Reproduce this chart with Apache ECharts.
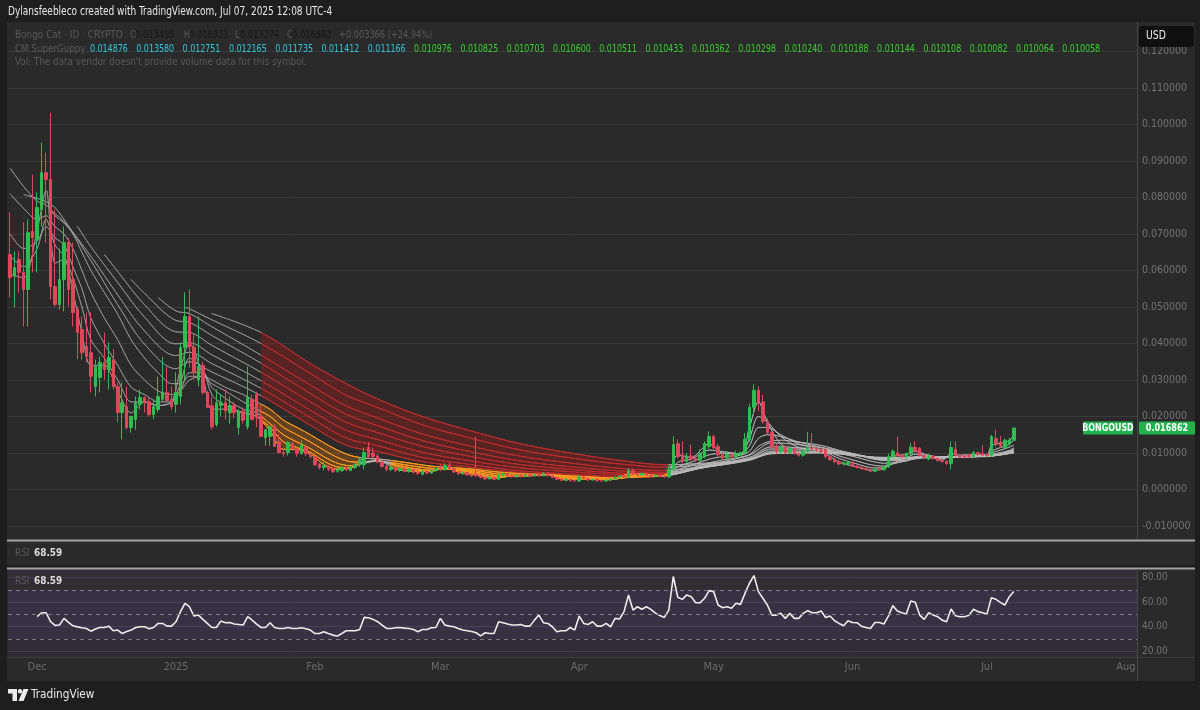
<!DOCTYPE html>
<html>
<head>
<meta charset="utf-8">
<script src="https://cdn.jsdelivr.net/npm/echarts/dist/echarts.min.js"></script>
<style>
html,body{margin:0;padding:0;background:#1e1e1e;overflow:hidden;}
#panel{position:absolute;left:7px;top:22px;width:1188px;height:659px;background:#2a2a2a;}
#rsipane{position:absolute;left:8px;top:570px;width:1129px;height:87px;background:rgba(126,87,194,0.07);}
#chart{position:absolute;left:0;top:0;width:1200px;height:710px;}
</style>
</head>
<body>
<div id="panel"></div>
<div id="rsipane"></div>
<div id="chart"></div>
<script>
// ---------------- DATA ----------------
const startDate = [2024, 10, 25];         // first candle: 2024-11-25 (daily bars)
const axisDays = 252;                      // axis runs to 2025-08-03
const monthNames = ['Jan','Feb','Mar','Apr','May','Jun','Jul','Aug','Sep','Oct','Nov','Dec'];

const opens = [
.0644,.0584,.0630,.0595,.0548,.0707,.0685,.0767,.0868,.0849,
.0556,.0507,.0575,.0677,.0575,.0493,.0438,.0392,.0375,.0282,
.0307,.0348,.0329,.0356,.0282,.0211,.0227,.0170,.0192,.0233,
.0252,.0241,.0205,.0219,.0247,.0266,.0247,.0233,.0255,.0389,
.0474,.0390,.0300,.0340,.0266,.0230,.0178,.0230,.0238,.0210,
.0230,.0170,.0215,.0172,.0247,.0260,.0200,.0142,.0145,.0172,
.0131,.0101,.0101,.0125,.0110,.0099,.0115,.0098,.0090,.0070,
.0060,.0065,.0058,.0050,.0052,.0060,.0052,.0060,.0068,.0068,
.0115,.0100,.0092,.0075,.0063,.0055,.0060,.0052,.0057,.0050,
.0055,.0047,.0042,.0050,.0045,.0052,.0057,.0055,.0066,.0057,
.0048,.0043,.0046,.0040,.0042,.0038,.0033,.0029,.0033,.0028,
.0040,.0042,.0038,.0035,.0039,.0036,.0040,.0037,.0041,.0038,
.0044,.0038,.0033,.0028,.0025,.0028,.0024,.0023,.0034,.0030,
.0026,.0028,.0024,.0023,.0026,.0029,.0033,.0037,.0034,.0052,
.0044,.0040,.0044,.0039,.0036,.0040,.0036,.0034,.0055,.0126,
.0095,.0077,.0092,.0085,.0080,.0090,.0118,.0145,.0118,.0095,
.0086,.0096,.0089,.0094,.0101,.0137,.0225,.0272,.0240,.0186,
.0156,.0118,.0104,.0115,.0101,.0112,.0098,.0094,.0105,.0115,
.0112,.0108,.0110,.0090,.0082,.0076,.0070,.0070,.0075,.0064,
.0061,.0057,.0055,.0050,.0058,.0054,.0062,.0090,.0100,.0095,
.0089,.0098,.0115,.0114,.0094,.0083,.0092,.0085,.0080,.0077,
.0071,.0110,.0094,.0092,.0095,.0090,.0101,.0098,.0096,.0093,
.0140,.0130,.0115,.0125,.013495];
const highs = [
.0759,.0652,.0652,.0732,.0740,.0863,.0814,.0951,.0923,.1033,
.0767,.0660,.0721,.0690,.0677,.0501,.0474,.0485,.0485,.0356,
.0364,.0430,.0403,.0384,.0293,.0293,.0282,.0200,.0255,.0274,
.0255,.0252,.0247,.0310,.0364,.0337,.0282,.0321,.0403,.0540,
.0548,.0425,.0474,.0350,.0270,.0255,.0274,.0260,.0274,.0255,
.0240,.0220,.0225,.0337,.0260,.0268,.0230,.0165,.0175,.0180,
.0150,.0110,.0132,.0130,.0115,.0135,.0120,.0100,.0093,.0072,
.0075,.0068,.0062,.0062,.0065,.0063,.0065,.0072,.0088,.0115,
.0130,.0115,.0098,.0080,.0068,.0065,.0062,.0060,.0060,.0058,
.0057,.0052,.0055,.0052,.0055,.0060,.0070,.0072,.0075,.0060,
.0052,.0050,.0048,.0044,.0145,.0041,.0036,.0036,.0035,.0045,
.0046,.0044,.0041,.0042,.0041,.0043,.0042,.0045,.0043,.0048,
.0046,.0040,.0035,.0031,.0030,.0029,.0027,.0040,.0036,.0032,
.0030,.0029,.0027,.0028,.0031,.0036,.0040,.0040,.0058,.0057,
.0048,.0047,.0046,.0042,.0042,.0041,.0039,.0068,.0145,.0137,
.0132,.0100,.0123,.0095,.0110,.0132,.0159,.0150,.0125,.0100,
.0105,.0100,.0106,.0104,.0155,.0235,.0288,.0282,.0260,.0195,
.0160,.0125,.0120,.0118,.0118,.0115,.0102,.0110,.0158,.0155,
.0115,.0112,.0112,.0093,.0086,.0080,.0076,.0078,.0077,.0066,
.0063,.0060,.0057,.0058,.0060,.0064,.0098,.0110,.0145,.0098,
.0102,.0128,.0132,.0116,.0096,.0098,.0094,.0088,.0083,.0080,
.0132,.0132,.0096,.0094,.0097,.0105,.0103,.0122,.0098,.0150,
.0164,.0147,.0140,.0142,.016921];
const lows = [
.0526,.0499,.0540,.0447,.0447,.0595,.0595,.0721,.0677,.0521,
.0501,.0493,.0488,.0501,.0447,.0356,.0356,.0348,.0266,.0255,
.0266,.0301,.0274,.0274,.0184,.0137,.0164,.0156,.0164,.0219,
.0211,.0200,.0192,.0211,.0241,.0241,.0219,.0211,.0233,.0301,
.0334,.0301,.0282,.0260,.0225,.0164,.0172,.0200,.0192,.0180,
.0195,.0150,.0180,.0164,.0190,.0170,.0145,.0120,.0120,.0118,
.0100,.0090,.0093,.0105,.0090,.0095,.0092,.0085,.0065,.0055,
.0052,.0050,.0045,.0046,.0048,.0050,.0050,.0056,.0062,.0055,
.0085,.0085,.0072,.0060,.0050,.0050,.0048,.0048,.0047,.0046,
.0044,.0040,.0038,.0042,.0043,.0048,.0050,.0052,.0054,.0045,
.0040,.0040,.0038,.0034,.0034,.0030,.0027,.0027,.0026,.0026,
.0034,.0035,.0032,.0033,.0033,.0034,.0034,.0035,.0035,.0036,
.0036,.0031,.0026,.0023,.0023,.0022,.0021,.0022,.0028,.0024,
.0024,.0022,.0021,.0022,.0024,.0027,.0031,.0032,.0033,.0040,
.0038,.0038,.0037,.0034,.0034,.0034,.0032,.0032,.0052,.0085,
.0072,.0072,.0078,.0075,.0076,.0085,.0110,.0110,.0090,.0082,
.0082,.0085,.0085,.0090,.0098,.0130,.0205,.0215,.0180,.0150,
.0112,.0098,.0098,.0098,.0098,.0095,.0090,.0090,.0100,.0108,
.0104,.0100,.0085,.0078,.0072,.0066,.0066,.0066,.0062,.0058,
.0054,.0052,.0048,.0048,.0052,.0052,.0060,.0085,.0090,.0085,
.0085,.0094,.0100,.0090,.0086,.0080,.0082,.0076,.0074,.0068,
.0055,.0090,.0086,.0085,.0087,.0088,.0092,.0092,.0090,.0090,
.0115,.0115,.0110,.0120,.013274];
const closes = [
.0581,.0608,.0595,.0548,.0704,.0690,.0773,.0868,.0849,.0556,
.0507,.0575,.0677,.0548,.0485,.0430,.0375,.0364,.0310,.0337,
.0348,.0329,.0362,.0282,.0211,.0238,.0170,.0200,.0238,.0252,
.0238,.0205,.0227,.0255,.0266,.0244,.0227,.0266,.0389,.0474,
.0390,.0321,.0337,.0266,.0225,.0172,.0238,.0238,.0215,.0230,
.0210,.0215,.0190,.0252,.0192,.0197,.0145,.0164,.0172,.0118,
.0101,.0098,.0129,.0112,.0099,.0120,.0098,.0090,.0068,.0060,
.0065,.0055,.0049,.0056,.0060,.0055,.0062,.0068,.0082,.0101,
.0090,.0090,.0075,.0063,.0055,.0060,.0052,.0057,.0050,.0055,
.0047,.0044,.0050,.0045,.0052,.0057,.0055,.0066,.0057,.0048,
.0043,.0046,.0040,.0037,.0038,.0033,.0029,.0033,.0028,.0040,
.0042,.0038,.0035,.0039,.0036,.0040,.0037,.0041,.0038,.0044,
.0038,.0033,.0028,.0025,.0028,.0024,.0023,.0034,.0030,.0026,
.0028,.0024,.0023,.0026,.0029,.0033,.0037,.0034,.0052,.0044,
.0040,.0044,.0039,.0036,.0040,.0036,.0034,.0055,.0123,.0090,
.0077,.0092,.0083,.0080,.0098,.0126,.0145,.0115,.0095,.0086,
.0096,.0089,.0098,.0101,.0137,.0225,.0272,.0240,.0186,.0156,
.0118,.0104,.0115,.0101,.0112,.0098,.0094,.0105,.0115,.0112,
.0108,.0104,.0090,.0082,.0076,.0070,.0074,.0075,.0064,.0061,
.0057,.0055,.0050,.0055,.0054,.0062,.0090,.0105,.0093,.0089,
.0098,.0116,.0104,.0094,.0088,.0092,.0085,.0080,.0077,.0071,
.0115,.0094,.0089,.0088,.0090,.0101,.0096,.0094,.0093,.0145,
.0125,.0120,.0135,.013496,.016862];

// CM SuperGuppy: slow EMA ribbon as [day, value]
const slowEma1 = [[3,.0808],[9,.0782],[12,.0740],[18,.0627],[24,.0506],[30,.0398],[37,.0331],[40,.0350],[45,.0322],[56,.0257],[67,.0176],[75,.0121],[82,.0104],[92,.0076],[103,.0061],[114,.0046],[126,.0038],[136,.0033],[146,.0037],[155,.0065],[165,.0095],[170,.0128],[181,.0115],[188,.0098],[195,.0080],[205,.0089],[218,.0090],[224,.010976]];
const slowEma2 = [[9,.0765],[12,.0734],[18,.0639],[24,.0533],[30,.0434],[37,.0367],[40,.0376],[45,.0345],[56,.0277],[67,.0197],[75,.0141],[82,.0120],[92,.0088],[103,.0068],[114,.0051],[126,.0042],[136,.0036],[146,.0038],[155,.0063],[165,.0088],[170,.0117],[181,.0109],[188,.0096],[195,.0082],[205,.0089],[218,.0092],[224,.010703]];
const slowEma3 = [[15,.0721],[18,.0665],[24,.0567],[30,.0472],[37,.0399],[40,.0402],[45,.0369],[56,.0298],[67,.0217],[75,.0162],[82,.0137],[92,.0102],[103,.0078],[114,.0059],[126,.0048],[136,.0041],[146,.0040],[155,.0061],[165,.0085],[170,.0111],[181,.0108],[188,.0097],[195,.0084],[205,.0089],[218,.0092],[224,.010511]];
const slowEma4 = [[21,.0644],[24,.0597],[30,.0506],[37,.0432],[40,.0430],[45,.0395],[56,.0321],[67,.0240],[75,.0184],[82,.0156],[92,.0118],[103,.0090],[114,.0068],[126,.0054],[136,.0045],[146,.0043],[155,.0060],[165,.0082],[170,.0105],[181,.0105],[188,.0096],[195,.0085],[205,.0089],[218,.0092],[224,.010362]];
const slowEma5 = [[27,.0575],[30,.0537],[37,.0463],[40,.0458],[45,.0422],[56,.0346],[67,.0263],[75,.0206],[82,.0175],[92,.0134],[103,.0103],[114,.0078],[126,.0061],[136,.0051],[146,.0047],[155,.0061],[165,.0080],[170,.0101],[181,.0102],[188,.0095],[195,.0086],[205,.0089],[218,.0091],[224,.010240]];
const slowEma6 = [[33,.0526],[37,.0489],[40,.0482],[45,.0446],[56,.0368],[67,.0286],[75,.0229],[82,.0196],[92,.0152],[103,.0118],[114,.0091],[126,.0071],[136,.0058],[146,.0052],[155,.0064],[165,.0081],[170,.0100],[181,.0102],[188,.0095],[195,.0086],[205,.0089],[218,.0091],[224,.010144]];
const slowEma7 = [[39,.0499],[40,.0495],[45,.0465],[56,.0400],[67,.0318],[75,.0258],[82,.0225],[92,.0177],[103,.0140],[114,.0108],[126,.0085],[136,.0070],[146,.0061],[155,.0069],[165,.0083],[170,.0100],[181,.0101],[188,.0095],[195,.0086],[205,.0089],[218,.0091],[224,.010082]];
const slowEma8 = [[45,.0482],[56,.0430],[67,.0345],[75,.0290],[82,.0248],[92,.0200],[103,.0160],[114,.0125],[126,.0098],[136,.0080],[146,.0068],[155,.0072],[165,.0082],[170,.0098],[181,.0100],[188,.0094],[195,.0088],[205,.0089],[218,.0091],[224,.010058]];

// fast EMA ribbon, read at these days
const fastDays = [0,3,6,8,10,12,14,16,18,21,24,27,30,33,36,38,40,43,45,48,52,55,58,61,64,67,70,73,76,79,82,86,90,94,97,100,104,108,112,116,120,124,127,130,134,138,141,145,147,149,152,156,159,163,165,167,169,172,176,179,182,185,189,192,195,197,200,202,205,208,210,212,215,218,219,221,223,224];
const fastEma1 = [.059,.058,.071,.082,.062,.063,.054,.043,.034, .034,.027,.021,.024,.023,.024,.033,.040,.031,.022, .022,.021,.020,.016,.011,.011,.0097,.0068,.0056,.0059, .0085,.0082,.0057,.0050,.0050,.0060,.0048,.0040,.0031,.0037, .0038,.0040,.0027,.0029,.0028,.0027,.0042,.0043,.0037,.0047, .0095,.0088,.0125,.0100,.0098,.0170,.0240,.0185,.0125,.0100, .0112,.0098,.0075,.0062,.0053,.0058,.0090,.0096,.0105,.0092, .0080,.0098,.0094,.0096,.0095,.0120,.0127,.0134,.014876];
const fastEma2 = [.064,.061,.066,.074,.067,.064,.058,.050,.041, .036,.030,.024,.024,.023,.024,.029,.036,.033,.026, .023,.021,.020,.017,.013,.0115,.0102,.0078,.0062,.0060, .0075,.0080,.0064,.0054,.0051,.0057,.0052,.0044,.0035,.0036, .0038,.0039,.0030,.0029,.0029,.0027,.0036,.0040,.0038,.0042, .0075,.0083,.0108,.0104,.0098,.0140,.0200,.0185,.0145,.0115, .0110,.0102,.0085,.0070,.0060,.0059,.0072,.0087,.0097,.0094, .0085,.0090,.0091,.0093,.0094,.0105,.0115,.0124,.01358];
const fastEma3 = [.070,.066,.068,.072,.069,.067,.061,.055,.047, .040,.034,.028,.026,.024,.024,.027,.032,.032,.028, .025,.022,.021,.018,.015,.013,.0112,.0090,.0072,.0065, .0072,.0078,.0068,.0058,.0053,.0056,.0054,.0047,.0039,.0037, .0038,.0039,.0033,.0031,.0030,.0028,.0034,.0038,.0038,.0041, .0062,.0075,.0095,.0099,.0097,.0120,.0170,.0170,.0150,.0125, .0115,.0106,.0092,.0078,.0068,.0064,.0070,.0080,.0090,.0092, .0087,.0089,.0090,.0092,.0093,.0100,.0108,.0116,.012165];
const fastEma4 = [.081,.077,.074,.075,.072,.070,.066,.060,.054, .047,.041,.034,.030,.027,.026,.027,.030,.031,.029, .027,.024,.022,.020,.017,.015,.013,.0108,.0088,.0076, .0075,.0078,.0072,.0064,.0058,.0057,.0056,.0051,.0044,.0040, .0039,.0039,.0035,.0033,.0032,.0030,.0033,.0036,.0037,.0040, .0054,.0066,.0083,.0090,.0094,.0105,.0140,.0150,.0145,.0130, .0121,.0112,.0100,.0088,.0078,.0072,.0073,.0078,.0085,.0089, .0088,.0089,.0090,.0091,.0092,.0096,.0101,.0107,.011412];
const fastEma5 = [.088,.083,.079,.078,.075,.073,.070,.065,.060, .054,.048,.041,.036,.032,.029,.029,.031,.031,.030, .028,.026,.024,.022,.019,.017,.015,.0128,.0108,.0093, .0086,.0084,.0078,.0071,.0064,.0061,.0059,.0055,.0049,.0045, .0042,.0041,.0038,.0036,.0034,.0032,.0033,.0035,.0036,.0039, .0048,.0058,.0073,.0081,.0088,.0095,.0118,.0130,.0135,.0130, .0125,.0118,.0107,.0096,.0087,.0080,.0079,.0080,.0084,.0087, .0087,.0088,.0089,.0090,.0091,.0093,.0097,.0102,.011166];

// RSI (14), daily, starts 2024-12-01
const rsiValues = [null,null,null,null,null,null,
48.1,51.3,51.3,44.0,41.0,41.3,46.7,43.4,40.7,39.8,
39.1,38.5,36.3,38.0,39.3,39.3,40.4,36.6,37.2,34.4,
36.0,37.2,39.3,39.9,39.9,38.3,39.3,42.6,42.6,40.4,
40.4,44.0,52.2,59.0,56.2,48.6,49.4,45.9,42.6,39.3,
39.3,44.5,43.2,43.4,42.1,41.8,41.3,48.1,45.3,42.1,
39.3,39.3,43.2,39.3,38.5,38.5,39.3,38.5,38.5,39.1,
38.3,37.2,34.4,34.4,35.8,34.4,33.1,32.3,34.4,36.6,
36.6,36.6,37.7,47.5,47.2,45.9,44.0,41.3,38.5,38.5,
39.1,39.3,38.8,38.5,37.7,35.8,37.7,37.7,39.1,39.3,
46.7,41.3,40.4,39.9,38.5,37.2,36.6,36.0,35.0,32.5,
35.0,34.4,34.4,44.0,43.2,42.1,41.3,41.3,41.8,40.4,
40.4,45.3,49.4,43.2,42.6,39.9,35.8,36.6,36.6,39.3,
37.2,48.6,42.6,41.8,44.0,40.4,40.4,42.6,39.9,46.7,
46.2,52.2,65.8,53.5,56.2,54.1,56.2,54.0,51.0,49.0,
47.5,53.5,80.8,63.9,62.2,65.8,64.4,59.5,59.5,63.1,
69.3,68.5,57.6,55.4,56.2,54.9,59.0,58.1,67.1,75.3,
81.6,68.5,63.1,57.6,49.4,49.4,50.8,46.7,50.8,46.7,
46.7,50.8,53.0,51.3,51.3,52.7,47.5,48.6,44.8,42.6,
40.7,44.8,43.4,43.2,40.4,39.3,38.5,43.4,43.4,42.1,
48.6,57.1,52.7,51.3,50.2,60.9,59.8,49.4,45.9,51.3,
49.4,48.1,45.3,44.0,54.3,48.9,48.1,48.1,49.2,54.1,
52.2,51.3,50.2,63.6,62.2,59.8,57.6,64.4,68.59];

// legend texts
const headerText = 'Dylansfeebleco created with TradingView.com, Jul 07, 2025 12:08 UTC-4';
const symbolTitle = 'Bongo Cat · ID · CRYPTO';
const ohlcLegend = [['O','0.013495'],['H','0.016921'],['L','0.013274'],['C','0.016862']];
const changeText = '+0.003366 (+24.94%)';
const guppyLegendValues = ['0.014876','0.013580','0.012751','0.012165','0.011735','0.011412','0.011166',
  '0.010976','0.010825','0.010703','0.010600','0.010511','0.010433','0.010362','0.010298','0.010240',
  '0.010188','0.010144','0.010108','0.010082','0.010064','0.010058'];
const volText = "Vol: The data vendor doesn't provide volume data for this symbol.";
const rsiLast = '68.59';
const symbolTag = 'BONGOUSD';

// ---------------- BUILD ----------------
const FONT = "'Liberation Sans Narrow','DejaVu Sans Condensed','Liberation Sans',sans-serif";
const categories = [];
const t0 = Date.UTC(startDate[0], startDate[1], startDate[2]);
for (let i = 0; i < axisDays; i++) categories.push(new Date(t0 + i * 86400000).toISOString().slice(0, 10));

const candleData = opens.map((o, i) => [o, closes[i], lows[i], highs[i]]);
const slowLines = [slowEma1, slowEma2, slowEma3, slowEma4, slowEma5, slowEma6, slowEma7, slowEma8];
const fastLines = [fastEma1, fastEma2, fastEma3, fastEma4, fastEma5];
const pairFast = arr => fastDays.map((d, i) => [d, arr[i]]);

const UP = '#2dbd50', DOWN = '#e2465b';
const GRAY_OLD = 'rgba(165,165,165,0.62)';
const GRAY_NEW = 'rgba(185,185,185,0.7)';
const RED = '#bb2c2c';
const ORANGE = '#ff9b1f';

const series = [];
series.push({
  type: 'candlestick', name: 'BONGOUSD', xAxisIndex: 0, yAxisIndex: 0, z: 6,
  barWidth: 3, data: candleData,
  itemStyle: { color: UP, color0: DOWN, borderColor: UP, borderColor0: DOWN, borderWidth: 1 }
});

function band(upper, lower, from, to, fill, z) {
  const up = upper.filter(p => p[0] >= from && p[0] <= to);
  const lo = lower.filter(p => p[0] >= from && p[0] <= to).slice().reverse();
  return {
    type: 'custom', xAxisIndex: 0, yAxisIndex: 0, silent: true, z: z,
    data: [[from, 0]],
    renderItem: function (params, api) {
      if (params.dataIndex !== 0) return;
      const pts = up.concat(lo).map(p => api.coord([p[0], p[1]]));
      return { type: 'polygon', shape: { points: pts }, style: { fill: fill } };
    }
  };
}
series.push(band(slowEma8, slowEma1, 56, 146, 'rgba(150,26,26,0.42)', 1));
series.push(band(slowEma8, slowEma1, 146, 224, 'rgba(170,170,170,0.16)', 1));
series.push(band(pairFast(fastEma5), pairFast(fastEma1), 55, 147, 'rgba(235,120,10,0.30)', 1));

const slowIdx = [], fastIdx = [];
slowLines.forEach((ln) => {
  slowIdx.push(series.length);
  series.push({ type: 'line', xAxisIndex: 0, yAxisIndex: 0, data: ln, showSymbol: false, smooth: 0.35,
    lineStyle: { width: 1 }, z: 2, silent: true });
});
fastLines.forEach((ln) => {
  fastIdx.push(series.length);
  series.push({ type: 'line', xAxisIndex: 0, yAxisIndex: 0, data: pairFast(ln), showSymbol: false, smooth: 0.3,
    lineStyle: { width: 1 }, z: 3, silent: true });
});

series.push({
  type: 'line', name: 'RSI', xAxisIndex: 1, yAxisIndex: 1, data: rsiValues, showSymbol: false,
  clip: false, z: 4, lineStyle: { color: '#ececec', width: 1.6 }, itemStyle: { color: '#ececec' },
  markLine: { silent: true, symbol: 'none', label: { show: false },
    lineStyle: { color: '#7c7c86', type: [4, 4], width: 1 },
    data: [{ yAxis: 70 }, { yAxis: 50 }, { yAxis: 30 }] },
  markArea: { silent: true, itemStyle: { color: 'rgba(126,87,194,0.10)' },
    data: [[{ yAxis: 70 }, { yAxis: 30 }]] }
});

function priceFmt(v) { return Math.abs(v) < 1e-9 ? '0.000000' : v.toFixed(6); }

const G = [];
function txt(x, y, text, fill, size, weight, sx) {
  G.push({ type: 'text', x: x, y: y, z: 100, silent: true, scaleX: sx || 1, scaleY: 1,
    style: { text: text, fill: fill, font: (weight || 'normal') + ' ' + size + 'px ' + FONT, verticalAlign: 'middle', align: 'left' } });
}
// pane separators and frame lines
G.push({ type: 'rect', z: 90, silent: true, shape: { x: 7, y: 539.5, width: 1188, height: 2 }, style: { fill: '#a3a3a3' } });
G.push({ type: 'rect', z: 90, silent: true, shape: { x: 7, y: 565.5, width: 1188, height: 2 }, style: { fill: '#1b1b1b' } });
G.push({ type: 'rect', z: 90, silent: true, shape: { x: 7, y: 567.5, width: 1188, height: 2 }, style: { fill: '#a3a3a3' } });
G.push({ type: 'line', z: 90, silent: true, shape: { x1: 7, y1: 657.5, x2: 1195, y2: 657.5 }, style: { stroke: '#3d3d3d', lineWidth: 1 } });
G.push({ type: 'line', z: 90, silent: true, shape: { x1: 1137.5, y1: 22, x2: 1137.5, y2: 539 }, style: { stroke: '#474747', lineWidth: 1 } });
G.push({ type: 'line', z: 90, silent: true, shape: { x1: 1137.5, y1: 570, x2: 1137.5, y2: 681 }, style: { stroke: '#474747', lineWidth: 1 } });

// header
txt(8, 12, headerText, '#e6e6e6', 12.5, 'normal', 0.8);
// legend line 1
txt(15, 35, symbolTitle, '#585858', 11, 'normal', 0.9);
const ohlcX = [130, 184, 235, 287];
ohlcLegend.forEach((p, i) => { txt(ohlcX[i], 35, p[0], '#585858', 11, 'normal', 0.85); txt(ohlcX[i] + 5, 35, p[1], '#171717', 11, 'normal', 0.84); });
txt(339, 35, changeText, '#585858', 11, 'normal', 0.83);
// legend line 2
txt(15, 49, 'CM SuperGuppy', '#585858', 11, 'normal', 0.88);
guppyLegendValues.forEach((v, i) => txt(90 + i * 46.3, 49, v, i < 7 ? '#33c6da' : '#38d12f', 11, 'normal', 0.8));
// legend line 3
txt(15, 62, volText, '#585858', 11, 'normal', 0.89);
// RSI titles
txt(15, 553, 'RSI', '#585858', 11, 'normal', 0.9); txt(34, 553, rsiLast, '#dcdcdc', 11, 'bold', 0.9);
txt(15, 581, 'RSI', '#585858', 11, 'normal', 0.9); txt(34, 581, rsiLast, '#dcdcdc', 11, 'bold', 0.9);
// USD box
G.push({ type: 'rect', z: 95, silent: true, shape: { x: 1139, y: 26, width: 55, height: 21, r: 3 }, style: { fill: '#101010' } });
txt(1146, 36.5, 'USD', '#f0f0f0', 11.5, 'normal', 0.9);
// TradingView logo
G.push({ type: 'polygon', z: 100, silent: true, shape: { points: [[8, 689], [17, 689], [17, 701], [12.5, 701], [12.5, 693.5], [8, 693.5]] }, style: { fill: '#ececec' } });
G.push({ type: 'circle', z: 100, silent: true, shape: { cx: 20, cy: 691.3, r: 2.2 }, style: { fill: '#ececec' } });
G.push({ type: 'polygon', z: 100, silent: true, shape: { points: [[23.5, 689], [28.5, 689], [23.5, 701], [18.5, 701]] }, style: { fill: '#ececec' } });
txt(31, 695, 'TradingView', '#e8e8e8', 13, 'normal', 0.9);

const option = {
  backgroundColor: 'transparent',
  animation: false,
  textStyle: { fontFamily: FONT },
  grid: [
    { left: 8, right: 63, top: 51.5, height: 474.5, outerBoundsMode: 'none' },
    { left: 8, right: 63, top: 577.5, height: 73.7, outerBoundsMode: 'none' }
  ],
  xAxis: [
    { type: 'category', gridIndex: 0, data: categories, boundaryGap: true,
      axisLine: { show: false }, axisTick: { show: false }, axisLabel: { show: false }, splitLine: { show: false } },
    { type: 'category', gridIndex: 1, data: categories, boundaryGap: true,
      axisLine: { show: false }, axisTick: { show: false }, splitLine: { show: false },
      axisLabel: { color: '#6a6a6a', fontSize: 11, margin: 10, fontFamily: FONT,
        interval: function (i, v) { return v.slice(8) === '01'; },
        formatter: function (v) { const m = +v.slice(5, 7); return m === 1 ? v.slice(0, 4) : monthNames[m - 1]; } } }
  ],
  yAxis: [
    { type: 'value', gridIndex: 0, position: 'right', min: -0.01, max: 0.12, interval: 0.01,
      axisLine: { show: false }, axisTick: { show: false },
      axisLabel: { color: '#737373', fontSize: 10.5, margin: 5, fontFamily: FONT, formatter: priceFmt },
      splitLine: { lineStyle: { color: '#3a3a3a', width: 1 } } },
    { type: 'value', gridIndex: 1, position: 'right', min: 20, max: 80, interval: 20,
      axisLine: { show: false }, axisTick: { show: false },
      axisLabel: { color: '#737373', fontSize: 10, margin: 5, fontFamily: FONT, formatter: v => v.toFixed(2) },
      splitLine: { lineStyle: { color: '#423e4c', width: 1 } } }
  ],
  visualMap: [
    { show: false, type: 'piecewise', dimension: 0, seriesIndex: slowIdx,
      pieces: [{ lt: 56, color: GRAY_OLD }, { gte: 56, lt: 147, color: RED }, { gte: 147, color: GRAY_NEW }] },
    { show: false, type: 'piecewise', dimension: 0, seriesIndex: fastIdx,
      pieces: [{ lt: 56, color: GRAY_OLD }, { gte: 56, lt: 78, color: ORANGE }, { gte: 78, lt: 85, color: GRAY_NEW },
               { gte: 85, lt: 147, color: ORANGE }, { gte: 147, color: GRAY_NEW }] }
  ],
  series: series,
  graphic: G
};

const chart = echarts.init(document.getElementById('chart'), null, { renderer: 'canvas', width: 1200, height: 710 });
chart.setOption(option);

// last-price tags, positioned through the price scale
const lastClose = closes[closes.length - 1];
const yTag = chart.convertToPixel({ yAxisIndex: 0 }, lastClose);
const tagFont = 'bold 10px ' + FONT;
const tags = [
  { type: 'rect', z: 110, silent: true, shape: { x: 1083, y: yTag - 6.5, width: 50, height: 13, r: 1 }, style: { fill: '#22b14c' } },
  { type: 'text', z: 111, silent: true, x: 1108, y: yTag, scaleX: 0.88, style: { text: symbolTag, fill: '#ffffff', font: tagFont, align: 'center', verticalAlign: 'middle' } },
  { type: 'rect', z: 110, silent: true, shape: { x: 1139, y: yTag - 6.5, width: 56, height: 13, r: 1 }, style: { fill: '#22b14c' } },
  { type: 'text', z: 111, silent: true, x: 1167, y: yTag, scaleX: 0.9, style: { text: priceFmt(lastClose), fill: '#ffffff', font: tagFont, align: 'center', verticalAlign: 'middle' } }
];
chart.setOption({ graphic: G.concat(tags) });
</script>
</body>
</html>
